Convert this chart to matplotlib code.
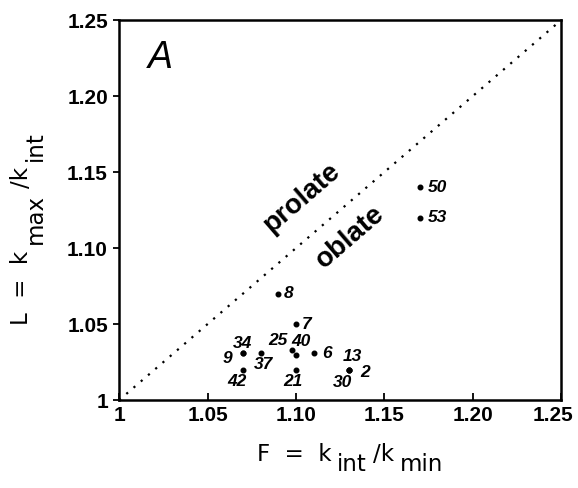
import matplotlib
matplotlib.use("Agg")
import matplotlib.pyplot as plt
from matplotlib.transforms import ScaledTranslation, IdentityTransform

plt.rcParams['font.family'] = ['Liberation Sans', 'DejaVu Sans']

# specimen numbers and their anisotropy parameters
specimens = ['50', '53', '8', '7', '34', '9', '37', '42',
             '25', '40', '6', '21', '13', '30', '2']
foliation = [1.17, 1.17, 1.09, 1.10, 1.07, 1.07, 1.08, 1.07,
             1.098, 1.10, 1.11, 1.10, 1.13, 1.13, 1.13]
lineation = [1.14, 1.12, 1.07, 1.05, 1.031, 1.031, 1.031, 1.02,
             1.033, 1.030, 1.031, 1.02, 1.02, 1.02, 1.02]

ticks = [1, 1.05, 1.10, 1.15, 1.20, 1.25]
tick_labels = ['1', '1.05', '1.10', '1.15', '1.20', '1.25']

# where each number sits relative to its dot (pixels, alignment)
label_pos = {
    '50': (8, 0, 'left'), '53': (8, 0, 'left'),
    '8': (6, 0, 'left'), '7': (6, 0, 'left'),
    '34': (0, 10, 'center'), '9': (-15, -5, 'center'),
    '37': (3, -11, 'center'), '42': (-6, -12, 'center'),
    '25': (-15, 9, 'center'), '40': (5, 13, 'center'),
    '6': (13, 0, 'center'), '21': (-3, -12, 'center'),
    '13': (3, 13, 'center'), '30': (-7, -13, 'center'),
    '2': (16, -3, 'center'),
}

W, H = 578, 488
fig = plt.figure(figsize=(W / 100, H / 100), dpi=100)
ax = fig.add_axes([0.206, 0.180, 0.765, 0.779])

# F = L boundary between prolate and oblate fabrics
ax.plot([1, 1.25], [1, 1.25], color='black', lw=1.6,
        linestyle=(0, (1, 3.3)))

ax.plot(foliation, lineation, 'o', color='black', ms=3.3)
for name, f, l in zip(specimens, foliation, lineation):
    dx, dy, ha = label_pos[name]
    ax.annotate(name, (f, l), xytext=(dx, dy), textcoords='offset pixels',
                ha=ha, va='center', fontsize=12.5, style='italic',
                fontweight='bold')

ax.text(1.1035, 1.133, 'prolate', rotation=40.7, ha='center', va='center',
        fontsize=20, fontweight='bold', rotation_mode='anchor')
ax.text(1.1307, 1.107, 'oblate', rotation=40.7, ha='center', va='center',
        fontsize=20, fontweight='bold', rotation_mode='anchor')
ax.text(1.0235, 1.225, 'A', ha='center', va='center', fontsize=27,
        style='italic')

ax.set_xlim(1, 1.25)
ax.set_ylim(1, 1.25)
ax.set_xticks(ticks)
ax.set_xticklabels(tick_labels, fontsize=15, fontweight='bold')
ax.set_yticks(ticks)
ax.set_yticklabels(tick_labels, fontsize=15, fontweight='bold')
ax.tick_params(axis='x', direction='in', length=5, width=1.3, pad=4)
ax.tick_params(axis='y', direction='out', length=4, width=1.3, pad=4)
for side in ax.spines.values():
    side.set_linewidth(1.8)

# last x tick label pulled in so it stays on the page
last = ax.get_xticklabels()[-1]
last.set_transform(last.get_transform()
                   + ScaledTranslation(-8 / 100, 0, fig.dpi_scale_trans))


def pieced_label(parts, center, base, sub_drop, vertical, gap=6):
    """Axis title with full-size, lowered subscripts (pixel coords)."""
    renderer = fig.canvas.get_renderer()
    texts, pos = [], 0.0
    for txt, sub in parts:
        shift = sub_drop if sub else 0
        if vertical:
            t = fig.text(base + shift, pos, txt, rotation=90,
                         rotation_mode='anchor', ha='left', va='baseline',
                         fontsize=16.5, family='DejaVu Sans',
                         transform=IdentityTransform())
            pos += t.get_window_extent(renderer).height + gap
        else:
            t = fig.text(pos, base - shift, txt, ha='left', va='baseline',
                         fontsize=16.5, family='DejaVu Sans',
                         transform=IdentityTransform())
            pos += t.get_window_extent(renderer).width + gap
        texts.append(t)
    start = center - (pos - gap) / 2
    for t in texts:
        x, y = t.get_position()
        t.set_position((x, y + start) if vertical else (x + start, y))


pieced_label([('F  =  k', False), ('int', True), ('/k', False), ('min', True)],
             center=350, base=H - 461, sub_drop=10, vertical=False)
pieced_label([('L  =  k', False), ('max', True), ('/k', False), ('int', True)],
             center=H - 228, base=28, sub_drop=14, vertical=True)

fig.savefig('out.png', dpi=100)
